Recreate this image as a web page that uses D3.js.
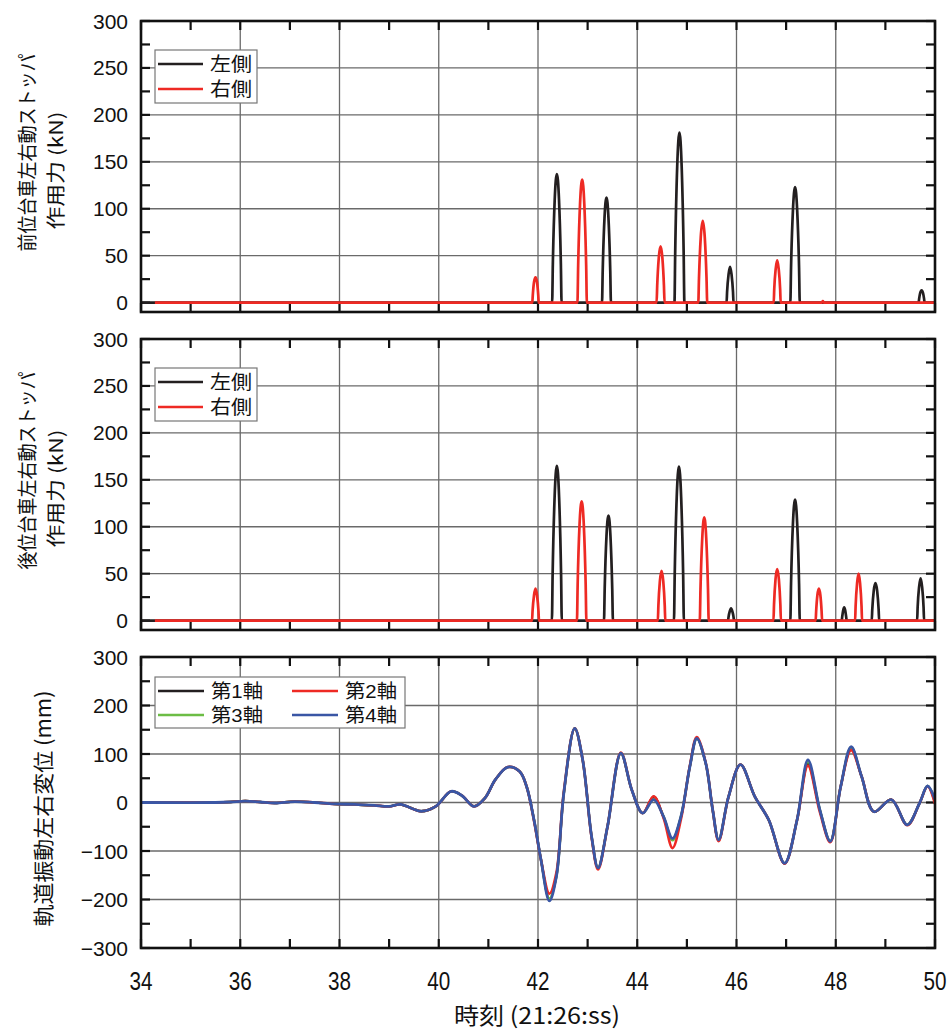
<!DOCTYPE html>
<html><head><meta charset="utf-8">
<script src="https://cdn.jsdelivr.net/npm/d3@7"></script>
<style>
html,body{margin:0;padding:0;background:#fff;}
svg{display:block;}
</style></head>
<body>
<svg id="chart" width="951" height="1033"></svg>
<script>
// ---------- DATA ----------
const xTicksMajor = [34,36,38,40,42,44,46,48,50];
const forceTicks = [0,50,100,150,200,250,300];
const dispTicks = [-300,-200,-100,0,100,200,300];

// front bogie stopper force (kN): [time s, value]
const frontLeft = [[34,0],
 [42.285,0],[42.299,41],[42.337,110],[42.38,137],[42.423,110],[42.461,41],[42.475,0],
 [43.29,0],[43.304,34],[43.34,90],[43.38,112],[43.42,90],[43.456,34],[43.47,0],
 [44.75,0],[44.765,54],[44.805,145],[44.85,181],[44.895,145],[44.935,54],[44.95,0],
 [45.80,0],[45.81,11],[45.84,30],[45.87,38],[45.90,30],[45.93,11],[45.94,0],
 [47.085,0],[47.099,37],[47.137,98],[47.18,123],[47.223,98],[47.261,37],[47.275,0],
 [49.67,0],[49.68,4],[49.70,10],[49.73,13],[49.76,10],[49.78,4],[49.79,0],
 [50,0]];
const frontRight = [[34.28,0],
 [41.885,0],[41.895,8],[41.92,22],[41.95,27],[41.98,22],[42.005,8],[42.015,0],
 [42.795,0],[42.809,39],[42.847,105],[42.89,131],[42.933,105],[42.971,39],[42.985,0],
 [44.39,0],[44.402,18],[44.434,48],[44.47,60],[44.506,48],[44.538,18],[44.55,0],
 [45.23,0],[45.244,26],[45.28,70],[45.32,87],[45.36,70],[45.396,26],[45.41,0],
 [46.75,0],[46.76,14],[46.79,36],[46.82,45],[46.85,36],[46.88,14],[46.89,0],
 [47.72,0],[47.74,1.5],[47.76,0],
 [50,0]];
// rear bogie stopper force (kN)
const rearLeft = [[34,0],
 [42.28,0],[42.295,50],[42.335,132],[42.38,165],[42.425,132],[42.465,50],[42.48,0],
 [43.33,0],[43.344,34],[43.38,90],[43.42,112],[43.46,90],[43.496,34],[43.51,0],
 [44.74,0],[44.755,49],[44.795,131],[44.84,164],[44.885,131],[44.925,49],[44.94,0],
 [45.83,0],[45.84,4],[45.865,10],[45.89,13],[45.915,10],[45.94,4],[45.95,0],
 [47.085,0],[47.099,39],[47.137,103],[47.18,129],[47.223,103],[47.261,39],[47.275,0],
 [48.12,0],[48.13,4],[48.15,11],[48.17,14],[48.19,11],[48.21,4],[48.22,0],
 [48.725,0],[48.736,12],[48.766,32],[48.80,40],[48.834,32],[48.864,12],[48.875,0],
 [49.64,0],[49.65,14],[49.68,36],[49.71,45],[49.74,36],[49.77,14],[49.78,0],
 [50,0]];
const rearRight = [[34.28,0],
 [41.88,0],[41.89,10],[41.92,27],[41.95,34],[41.98,27],[42.01,10],[42.02,0],
 [42.785,0],[42.799,38],[42.837,102],[42.88,127],[42.923,102],[42.961,38],[42.975,0],
 [44.415,0],[44.426,16],[44.456,42],[44.49,53],[44.524,42],[44.554,16],[44.565,0],
 [45.26,0],[45.274,33],[45.31,88],[45.35,110],[45.39,88],[45.426,33],[45.44,0],
 [46.745,0],[46.756,17],[46.786,44],[46.82,55],[46.854,44],[46.884,17],[46.895,0],
 [47.595,0],[47.605,10],[47.63,27],[47.66,34],[47.69,27],[47.715,10],[47.725,0],
 [48.39,0],[48.40,15],[48.43,40],[48.46,50],[48.49,40],[48.52,15],[48.53,0],
 [50,0]];

// track lateral displacement (mm)
const dispTime = [34,35.5,35.8,36.1,36.4,36.7,37.1,37.5,37.9,38.3,38.7,39.0,39.23,39.65,39.94,40.25,40.47,40.71,40.93,41.14,41.39,41.63,41.77,41.92,42.06,42.23,42.37,42.52,42.74,42.9,43.08,43.21,43.40,43.67,43.89,44.11,44.33,44.53,44.71,44.88,45.06,45.2,45.38,45.52,45.64,45.84,46.08,46.37,46.65,46.97,47.22,47.44,47.68,47.89,48.10,48.31,48.52,48.77,49.12,49.44,49.69,49.85,50];
const axle4 = [0,0,1,3,1,-1,2,0,-3,-4,-6,-8,-4,-18,-8,23,14,-8,9,47,73,64,33,-36,-118,-203,-153,19,153,88,-70,-135,-50,102,26,-22,6,-29,-74,-29,74,132,81,-15,-77,12,78,12,-36,-125,-36,88,-15,-80,33,115,54,-19,6,-46,-1,34,6];
const axle1 = [0,0,1,3,1,-1,2,0,-3,-4,-6,-8,-4,-18,-8,23,14,-8,9,47,73,64,33,-36,-118,-200,-152,19,152,88,-70,-135,-50,101,26,-22,12,-30,-77,-30,74,132,81,-15,-78,12,78,12,-36,-126,-36,80,-16,-80,33,112,54,-19,6,-46,-1,34,0];
const axle2 = [0,0,1,3,1,-1,2,0,-3,-4,-6,-8,-4,-18,-8,23,14,-8,9,47,73,64,33,-38,-118,-188,-145,22,153,88,-72,-138,-50,103,26,-22,13,-32,-94,-35,76,135,82,-15,-80,12,78,12,-36,-126,-36,76,-20,-82,33,108,54,-19,6,-47,-1,33,-3];
const axle3 = [0,0,1,3,1,-1,2,0,-3,-4,-6,-8,-4,-18,-8,23,14,-8,9,47,73,64,33,-36,-118,-198,-152,19,153,88,-70,-135,-50,102,26,-22,7,-29,-78,-29,74,132,81,-15,-77,12,78,12,-36,-125,-36,84,-15,-80,33,114,54,-19,6,-46,-1,34,4];

const forceLegend = ["左側","右側"];
const dispLegend = ["第1軸","第2軸","第3軸","第4軸"];
const colBlack = "#231f20", colRed = "#ee2a24", colGreen = "#6cbd45", colBlue = "#3a56a5";
const cjkFont = "'Noto Sans CJK JP', sans-serif";
const legFont = "'Liberation Sans', 'Noto Sans CJK JP', sans-serif";

// ---------- LAYOUT ----------
const svg = d3.select("#chart");
const X0 = 141, X1 = 935;
const x = d3.scaleLinear().domain([34,50]).range([X0,X1]);
const panels = [
  {top:21, bot:312, dom:[-10,300], ticks:forceTicks, minor:d3.range(25,300,50), title:["前位台車左右動ストッパ","作用力 (kN)"]},
  {top:339, bot:630, dom:[-10,300], ticks:forceTicks, minor:d3.range(25,300,50), title:["後位台車左右動ストッパ","作用力 (kN)"]},
  {top:657, bot:948, dom:[-300,300], ticks:dispTicks, minor:d3.range(-250,300,100), title:["軌道振動左右変位 (mm)"]}
];
const allX = d3.range(34,51,1);
const minorX = allX.filter(v => v % 2 !== 0);

panels.forEach((p,i) => {
  p.y = d3.scaleLinear().domain(p.dom).range([p.bot,p.top]);
  const g = svg.append("g");
  // grid
  g.selectAll(".gx").data(xTicksMajor.slice(1,-1)).join("line")
    .attr("x1",d=>x(d)).attr("x2",d=>x(d)).attr("y1",p.top).attr("y2",p.bot)
    .attr("stroke","#6a6a6a").attr("stroke-width",1.3);
  g.selectAll(".gy").data(p.ticks).join("line")
    .attr("x1",X0).attr("x2",X1).attr("y1",d=>p.y(d)).attr("y2",d=>p.y(d))
    .attr("stroke", d => d===0 && i<2 ? "#333" : "#6a6a6a").attr("stroke-width",1.3);
  // ticks (inward)
  const tl = 9;
  [...xTicksMajor, ...minorX].forEach(v => {
    g.append("line").attr("x1",x(v)).attr("x2",x(v)).attr("y1",p.bot).attr("y2",p.bot-tl).attr("stroke","#111").attr("stroke-width",2.2);
    g.append("line").attr("x1",x(v)).attr("x2",x(v)).attr("y1",p.top).attr("y2",p.top+tl).attr("stroke","#111").attr("stroke-width",2.2);
  });
  [...p.ticks, ...p.minor].forEach(v => {
    g.append("line").attr("x1",X0).attr("x2",X0+tl).attr("y1",p.y(v)).attr("y2",p.y(v)).attr("stroke","#111").attr("stroke-width",2.2);
    g.append("line").attr("x1",X1).attr("x2",X1-tl).attr("y1",p.y(v)).attr("y2",p.y(v)).attr("stroke","#111").attr("stroke-width",2.2);
  });
  // y tick labels
  g.selectAll(".yl").data(p.ticks).join("text")
    .attr("x",128).attr("y",d=>p.y(d)).attr("dy","0.36em")
    .attr("text-anchor","end")
    .attr("font-family","'Liberation Sans', Arial, sans-serif").attr("font-size",21).attr("fill","#111")
    .text(d => d < 0 ? "\u2212" + Math.abs(d) : d);
  // y title
  const cy = (p.top + p.bot)/2;
  if (p.title.length === 2) {
    g.append("text").attr("transform",`translate(35,${cy-14}) rotate(-90)`)
      .attr("text-anchor","middle").attr("font-family",cjkFont).attr("font-size",20).attr("fill","#111")
      .attr("textLength",198).attr("lengthAdjust","spacingAndGlyphs")
      .text(p.title[0]);
    g.append("text").attr("transform",`translate(63,${cy+4}) rotate(-90)`)
      .attr("text-anchor","middle").attr("font-family",cjkFont).attr("font-size",19).attr("fill","#111")
      .attr("textLength",118).attr("lengthAdjust","spacingAndGlyphs")
      .text(p.title[1]);
  } else {
    g.append("text").attr("transform",`translate(51,${cy+6}) rotate(-90)`)
      .attr("text-anchor","middle").attr("font-family",cjkFont).attr("font-size",21).attr("fill","#111")
      .attr("textLength",236).attr("lengthAdjust","spacingAndGlyphs")
      .text(p.title[0]);
  }
});

// ---------- SERIES ----------
const clipId = (i) => "clip"+i;
panels.forEach((p,i) => {
  svg.append("clipPath").attr("id",clipId(i)).append("rect")
    .attr("x",X0).attr("y",p.top).attr("width",X1-X0).attr("height",p.bot-p.top);
});
const pulseLine = (p) => d3.line().x(d=>x(d[0])).y(d=>p.y(d[1])).curve(d3.curveMonotoneX);
function drawPulse(pi, data, color) {
  const p = panels[pi];
  svg.append("path").datum(data).attr("d", pulseLine(p))
    .attr("fill","none").attr("stroke",color).attr("stroke-width",2.7)
    .attr("stroke-linejoin","round").attr("clip-path",`url(#${clipId(pi)})`);
}
drawPulse(0, frontLeft, colBlack);
drawPulse(0, frontRight, colRed);
drawPulse(1, rearLeft, colBlack);
drawPulse(1, rearRight, colRed);

const p3 = panels[2];
const dispLine = d3.line().x((d,i)=>x(dispTime[i])).y(d=>p3.y(d)).curve(d3.curveCatmullRom.alpha(0.5));
[[axle1,colBlack,2.4],[axle3,colGreen,2.4],[axle2,colRed,2.6],[axle4,colBlue,2.8]].forEach(([arr,c,w]) => {
  svg.append("path").datum(arr).attr("d",dispLine)
    .attr("fill","none").attr("stroke",c).attr("stroke-width",w)
    .attr("stroke-linejoin","round").attr("clip-path",`url(#${clipId(2)})`);
});

// ---------- FRAMES ----------
panels.forEach(p => {
  svg.append("rect").attr("x",X0).attr("y",p.top).attr("width",X1-X0).attr("height",p.bot-p.top)
    .attr("fill","none").attr("stroke","#111").attr("stroke-width",2.6);
});

// ---------- LEGENDS ----------
[0,1].forEach(pi => {
  const off = panels[pi].top - 21;
  const g = svg.append("g").attr("transform",`translate(0,${off})`);
  g.append("rect").attr("x",155).attr("y",50).attr("width",102).attr("height",53)
    .attr("fill","#fff").attr("stroke","#777").attr("stroke-width",1.2);
  forceLegend.forEach((t,k) => {
    const yy = 64 + k*25;
    g.append("line").attr("x1",158).attr("x2",203).attr("y1",yy).attr("y2",yy)
      .attr("stroke", k===0 ? colBlack : colRed).attr("stroke-width",2.3);
    g.append("text").attr("x",210).attr("y",yy).attr("dy","0.36em")
      .attr("font-family",legFont).attr("font-size",19).attr("fill","#111")
      .attr("textLength",42).attr("lengthAdjust","spacingAndGlyphs")
      .text(t);
  });
});
{
  const g = svg.append("g");
  g.append("rect").attr("x",155).attr("y",677).attr("width",250).attr("height",51)
    .attr("fill","#fff").attr("stroke","#777").attr("stroke-width",1.2);
  const cols = [colBlack,colRed,colGreen,colBlue];
  dispLegend.forEach((t,k) => {
    const col = k % 2, row = Math.floor(k/2);
    const lx = col===0 ? 158 : 292, tx = col===0 ? 211 : 345;
    const yy = 691 + row*24;
    g.append("line").attr("x1",lx).attr("x2",lx+46).attr("y1",yy).attr("y2",yy)
      .attr("stroke",cols[k]).attr("stroke-width",2.3);
    g.append("text").attr("x",tx).attr("y",yy).attr("dy","0.36em")
      .attr("font-family",legFont).attr("font-size",19).attr("fill","#111")
      .attr("textLength",52).attr("lengthAdjust","spacingAndGlyphs")
      .text(t);
  });
}

// ---------- X AXIS LABELS ----------
svg.selectAll(".xl").data(xTicksMajor).join("text")
  .attr("x",d=>x(d)).attr("y",981).attr("dy","0.36em").attr("text-anchor","middle")
  .attr("font-family","'Liberation Sans Narrow', 'Liberation Sans', sans-serif")
  .attr("font-size",25).attr("fill","#111")
  .attr("textLength",23).attr("lengthAdjust","spacingAndGlyphs")
  .text(d=>d);
svg.append("text").attr("x",537).attr("y",1016).attr("dy","0.36em").attr("text-anchor","middle")
  .attr("font-family",cjkFont).attr("font-size",23).attr("fill","#111")
  .attr("textLength",166).attr("lengthAdjust","spacingAndGlyphs")
  .text("時刻 (21:26:ss)");
</script>
</body></html>
